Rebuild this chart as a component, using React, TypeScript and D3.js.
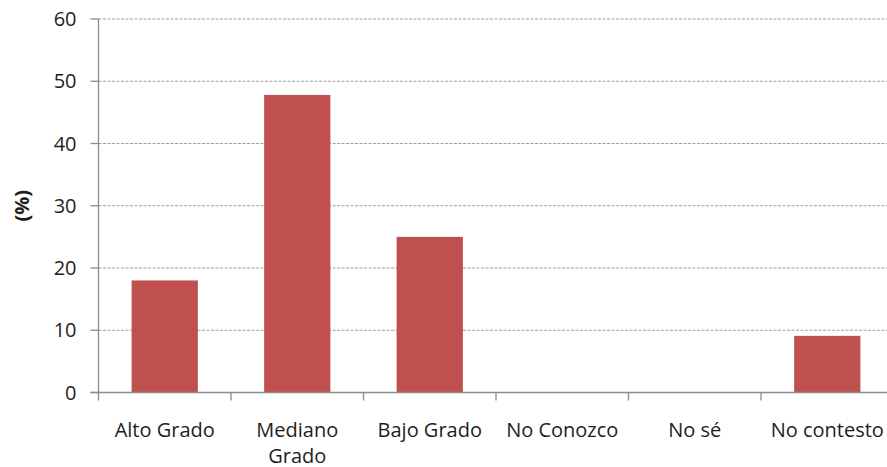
import React from "react";
import * as d3 from "d3";

// Survey responses, percentage per category
const categories: string[] = [
  "Alto Grado",
  "Mediano Grado",
  "Bajo Grado",
  "No Conozco",
  "No sé",
  "No contesto",
];
const values: number[] = [18, 47.8, 25, 0, 0, 9.1];
const yTicks: number[] = [0, 10, 20, 30, 40, 50, 60];
const yLabel = "(%)";

const W = 887;
const H = 467;
const FONT = "'Open Sans', 'Noto Sans', sans-serif";
const FONT_SIZE = 20;
const TEXT = "#1e1e1e";
const AXIS = "#8c8c8c";
const GRID = "#a0a0a0";
const BAR = "#C0504D";

const plot = { left: 98.5, right: 893.5, top: 19, bottom: 392.5 };

function measure(text: string): number {
  const c = document.createElement("canvas").getContext("2d");
  if (!c) return text.length * FONT_SIZE * 0.5;
  c.font = `${FONT_SIZE}px 'Open Sans'`;
  return c.measureText(text).width;
}

function wrap(text: string, maxW: number): string[] {
  const words = text.split(" ");
  const lines: string[] = [];
  let cur = "";
  for (const w of words) {
    const next = cur ? cur + " " + w : w;
    if (cur && measure(next) > maxW) {
      lines.push(cur);
      cur = w;
    } else {
      cur = next;
    }
  }
  if (cur) lines.push(cur);
  return lines;
}

export default function App() {
  const x = d3
    .scaleBand<string>()
    .domain(categories)
    .range([plot.left, plot.right])
    .paddingInner(0.5)
    .paddingOuter(0.25);
  const y = d3.scaleLinear().domain([0, 60]).range([plot.bottom, plot.top]);
  const step = x.step();
  const boundaries = d3.range(categories.length + 1).map((i) => plot.left + i * step);

  return (
    <svg
      width={W}
      height={H}
      style={{ position: "absolute", left: 0, top: 0, background: "#fff" }}
      fontFamily={FONT}
    >
      {/* horizontal gridlines */}
      {yTicks
        .filter((t) => t > 0)
        .map((t) => (
          <line
            key={`g${t}`}
            x1={plot.left}
            x2={W}
            y1={y(t)}
            y2={y(t)}
            stroke={GRID}
            strokeWidth={1}
            strokeDasharray="3,1.5"
          />
        ))}

      {/* bars */}
      {categories.map((c, i) =>
        values[i] > 0 ? (
          <rect
            key={c}
            x={x(c)}
            y={y(values[i])}
            width={x.bandwidth()}
            height={y(0) - y(values[i])}
            fill={BAR}
          />
        ) : null
      )}

      {/* y axis */}
      <line x1={plot.left} x2={plot.left} y1={plot.top} y2={plot.bottom} stroke={AXIS} strokeWidth={1.3} />
      {yTicks.map((t) => (
        <g key={`t${t}`}>
          <line x1={plot.left - 8} x2={plot.left} y1={y(t)} y2={y(t)} stroke={AXIS} strokeWidth={1.3} />
          <text x={76.5} y={y(t) + 7} textAnchor="end" fontSize={FONT_SIZE} fill={TEXT}>
            {t}
          </text>
        </g>
      ))}

      {/* x axis */}
      <line x1={plot.left - 8} x2={W} y1={plot.bottom} y2={plot.bottom} stroke={AXIS} strokeWidth={1.3} />
      {boundaries.map((bx, i) => (
        <line key={`b${i}`} x1={bx} x2={bx} y1={plot.bottom} y2={plot.bottom + 8} stroke={AXIS} strokeWidth={1.3} />
      ))}
      {categories.map((c) => {
        const lines = wrap(c, step - 4);
        const cx = (x(c) ?? 0) + x.bandwidth() / 2;
        return (
          <text key={`l${c}`} x={cx} y={437} textAnchor="middle" fontSize={FONT_SIZE} fill={TEXT}>
            {lines.map((ln, j) => (
              <tspan key={j} x={cx} dy={j === 0 ? 0 : 26}>
                {ln}
              </tspan>
            ))}
          </text>
        );
      })}

      {/* y axis title */}
      <text
        transform={`translate(29, ${(plot.top + plot.bottom) / 2}) rotate(-90)`}
        textAnchor="middle"
        fontSize={FONT_SIZE}
        fontWeight="bold"
        fill={TEXT}
      >
        {yLabel}
      </text>
    </svg>
  );
}
